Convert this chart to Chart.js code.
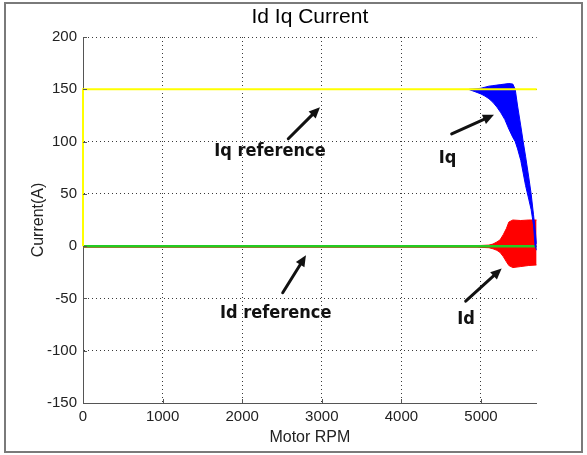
<!DOCTYPE html>
<html>
<head>
<meta charset="utf-8">
<script src="https://cdn.jsdelivr.net/npm/chart.js@4/dist/chart.umd.min.js"></script>
<style>
html,body{margin:0;padding:0;background:#fff;}
#wrap{width:587px;height:455px;}
</style>
</head>
<body>
<div id="wrap"><canvas id="c" width="587" height="455"></canvas></div>
<script>
// ---- data ----
const xTicks = [0, 1000, 2000, 3000, 4000, 5000];
const yTicks = [-150, -100, -50, 0, 50, 100, 150, 200];

const iqRefX = [0, 0, 5700];
const iqRefY = [0, 150, 150];
const idRefX = [0, 5700];
const idRefY = [0, 0];

const iqX     = [4850, 4950, 5000, 5050, 5100, 5150, 5200, 5250, 5300, 5350, 5400, 5430, 5460, 5500, 5530, 5560, 5600, 5630, 5660, 5680, 5700];
const iqUpper = [150, 150.5, 151, 152, 153, 153.5, 154, 154.5, 155, 155.5, 155, 150, 134, 115, 100, 86, 66, 50, 30, 16, 2];
const iqLower = [149.8, 147, 145.5, 143.5, 141, 137.5, 133, 127.5, 121, 112, 104, 100, 93, 82, 70, 58, 45, 35, 20, 0, -4];

const idX     = [0, 4950, 5100, 5150, 5200, 5240, 5280, 5320, 5350, 5400, 5500, 5600, 5700];
const idUpper = [0.3, 0.5, 1, 2, 4, 6, 11, 17, 23, 25, 24.5, 25, 25];
const idLower = [-1, -1, -1.5, -2.5, -4, -6, -10, -15, -18.5, -20.5, -19.5, -18.5, -18];

const noteTexts  = ['Iq reference', 'Iq', 'Id reference', 'Id'];
const noteX      = [2349, 4579, 2421, 4812];
const noteY      = [90.6, 84, -64.4, -70];
const arrowFromX = [2579, 4632, 2509, 4808];
const arrowFromY = [102.7, 107.4, -44.6, -52.6];
const arrowToX   = [2977, 5163, 2801, 5260];
const arrowToY   = [132.9, 125.6, -8.8, -21.4];

const pts = (xs, ys) => xs.map((x, i) => ({x: x, y: ys[i]}));

const framePlugin = {
  id: 'frame',
  beforeDraw(chart) {
    const ctx = chart.ctx;
    ctx.save();
    ctx.fillStyle = '#ffffff';
    ctx.fillRect(0, 0, chart.width, chart.height);
    ctx.strokeStyle = '#7a7a7a';
    ctx.lineWidth = 2;
    ctx.strokeRect(5, 3, 577, 449);
    ctx.restore();
  },
  afterDraw(chart) {
    // small inward tick marks on the left and bottom axes
    const ctx = chart.ctx, sx = chart.scales.x, sy = chart.scales.y, a = chart.chartArea;
    ctx.save();
    ctx.strokeStyle = '#555';
    ctx.lineWidth = 1;
    ctx.beginPath();
    sx.ticks.forEach(t => {
      const px = Math.round(sx.getPixelForValue(t.value)) + 0.5;
      ctx.moveTo(px, a.bottom);
      ctx.lineTo(px, a.bottom - 4);
    });
    sy.ticks.forEach(t => {
      const py = Math.round(sy.getPixelForValue(t.value)) + 0.5;
      ctx.moveTo(a.left, py);
      ctx.lineTo(a.left + 4, py);
    });
    ctx.stroke();
    ctx.restore();
  }
};

const notePlugin = {
  id: 'notes',
  afterDatasetsDraw(chart) {
    const ctx = chart.ctx, sx = chart.scales.x, sy = chart.scales.y;
    ctx.save();
    ctx.fillStyle = '#111';
    ctx.strokeStyle = '#111';
    ctx.font = 'bold 18px "DejaVu Sans Condensed", "DejaVu Sans", sans-serif';
    ctx.textAlign = 'center';
    ctx.textBaseline = 'middle';
    noteTexts.forEach((t, i) => {
      ctx.fillText(t, sx.getPixelForValue(noteX[i]), sy.getPixelForValue(noteY[i]));
    });
    ctx.lineWidth = 3;
    ctx.lineCap = 'round';
    arrowFromX.forEach((fx, i) => {
      const x1 = sx.getPixelForValue(fx), y1 = sy.getPixelForValue(arrowFromY[i]);
      const x2 = sx.getPixelForValue(arrowToX[i]), y2 = sy.getPixelForValue(arrowToY[i]);
      const a = Math.atan2(y2 - y1, x2 - x1);
      const hl = 11, hw = 5;
      const bx = x2 - hl * Math.cos(a), by = y2 - hl * Math.sin(a);
      ctx.beginPath();
      ctx.moveTo(x1, y1);
      ctx.lineTo(bx, by);
      ctx.stroke();
      ctx.beginPath();
      ctx.moveTo(x2, y2);
      ctx.lineTo(bx + hw * Math.sin(a), by - hw * Math.cos(a));
      ctx.lineTo(bx - hw * Math.sin(a), by + hw * Math.cos(a));
      ctx.closePath();
      ctx.fill();
    });
    ctx.restore();
  }
};

const baseLine = {showLine: true, pointRadius: 0, tension: 0};
const tickFont = {family: '"Liberation Sans", Arial, sans-serif', size: 15};

new Chart(document.getElementById('c'), {
  type: 'scatter',
  data: {
    datasets: [
      Object.assign({label: 'Iq reference', data: pts(iqRefX, iqRefY), borderColor: '#ffff00', borderWidth: 2, fill: false, clip: 3}, baseLine),
      Object.assign({label: 'Iq upper', data: pts(iqX, iqUpper), borderColor: '#0000ff', backgroundColor: '#0000ff', borderWidth: 1, fill: '+1'}, baseLine),
      Object.assign({label: 'Iq lower', data: pts(iqX, iqLower), borderColor: '#0000ff', borderWidth: 1, fill: false}, baseLine),
      Object.assign({label: 'Id reference', data: pts(idRefX, idRefY), borderColor: '#22cc22', borderWidth: 2.5, fill: false}, baseLine),
      Object.assign({label: 'Id upper', data: pts(idX, idUpper), borderColor: '#ff0000', backgroundColor: '#ff0000', borderWidth: 1, fill: '+1'}, baseLine),
      Object.assign({label: 'Id lower', data: pts(idX, idLower), borderColor: '#ff0000', borderWidth: 1, fill: false}, baseLine)
    ]
  },
  options: {
    responsive: false,
    animation: false,
    events: [],
    layout: {padding: {left: 5, right: 50.3, top: 3, bottom: 3}},
    plugins: {
      legend: {display: false},
      tooltip: {enabled: false},
      title: {
        display: true, text: 'Id Iq Current', fullSize: false,
        color: '#000',
        font: {family: '"Liberation Sans", Arial, sans-serif', size: 21, weight: 'normal', lineHeight: 1.2},
        padding: {top: 2, bottom: 6.8}
      }
    },
    scales: {
      x: {
        type: 'linear', min: 0, max: 5700,
        afterBuildTicks: s => { s.ticks = xTicks.map(v => ({value: v})); },
        afterFit: s => { s.height = 49; },
        grid: {color: '#3a3a3a', lineWidth: 1, drawTicks: false},
        border: {display: true, color: '#555', width: 1, dash: [1, 3]},
        ticks: {color: '#222', padding: 5, font: tickFont, callback: v => String(v)},
        title: {display: true, text: 'Motor RPM', color: '#222', padding: {top: 0, bottom: 5}, font: {family: '"Liberation Sans", Arial, sans-serif', size: 16, lineHeight: 1.2}}
      },
      y: {
        type: 'linear', min: -150, max: 200,
        afterBuildTicks: s => { s.ticks = yTicks.map(v => ({value: v})); },
        afterFit: s => { s.width = 78; },
        grid: {color: '#3a3a3a', lineWidth: 1, drawTicks: false},
        border: {display: true, color: '#555', width: 1, dash: [1, 3]},
        ticks: {color: '#222', padding: 6, font: tickFont, callback: v => String(v)},
        title: {display: true, text: 'Current(A)', color: '#222', padding: {top: 24, bottom: 0}, font: {family: '"Liberation Sans", Arial, sans-serif', size: 16, lineHeight: 1.2}}
      }
    }
  },
  plugins: [framePlugin, notePlugin]
});
</script>
</body>
</html>
